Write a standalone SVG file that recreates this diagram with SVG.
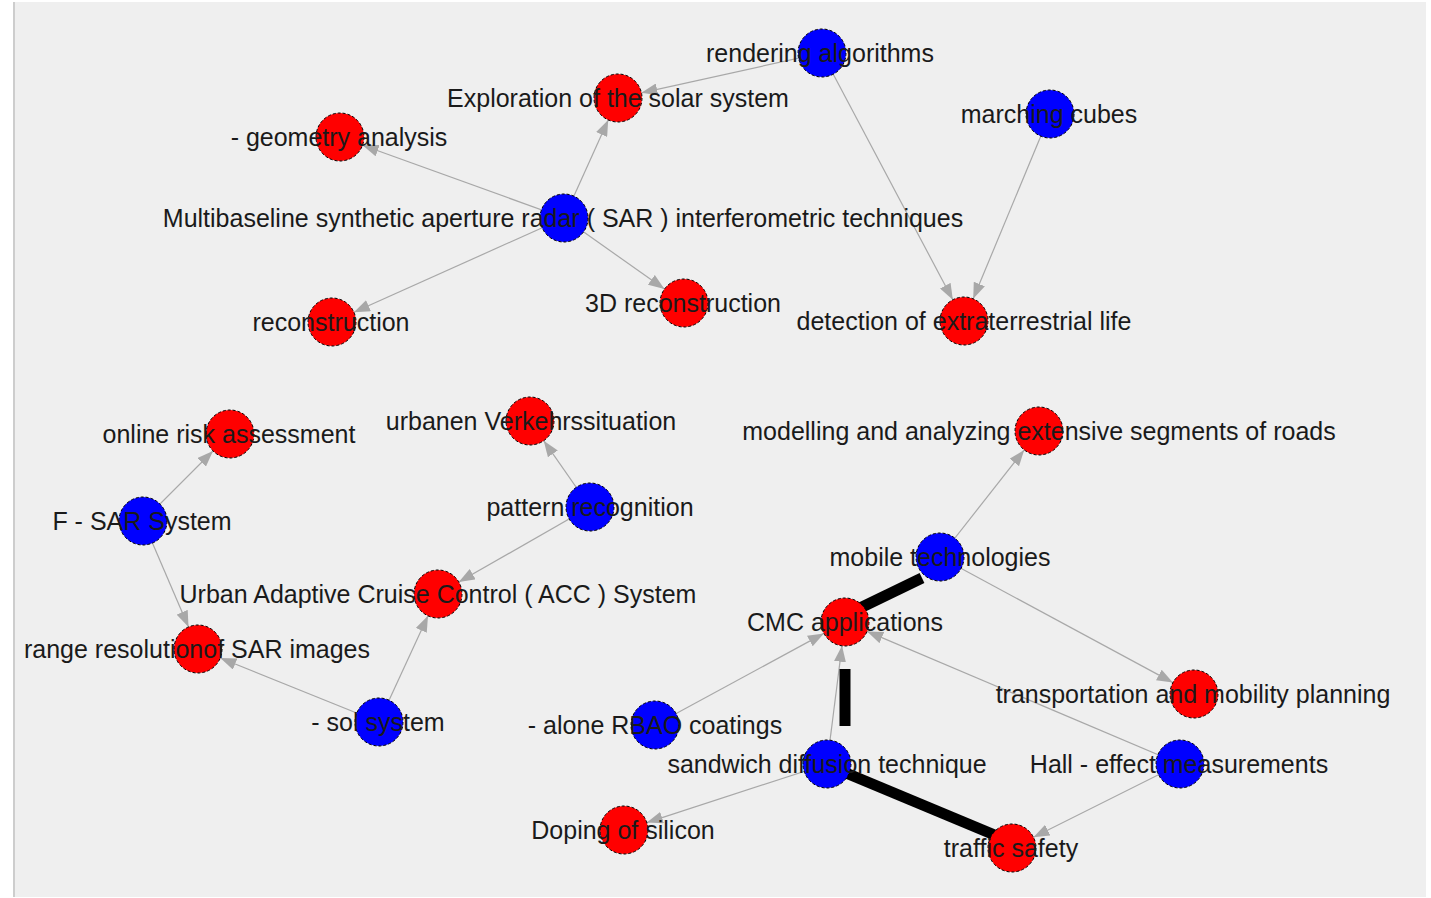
<svg xmlns="http://www.w3.org/2000/svg" width="1431" height="898" viewBox="0 0 1431 898">
  <style>
    .edge { stroke: #a8a8a8; stroke-width: 1.2; fill: none; }
    .heavy { stroke: #000000; stroke-width: 11; fill: none; }
    .node circle { stroke: #000000; stroke-width: 1; stroke-dasharray: 3 2; }
    .src circle { fill: #0000ff; }
    .dst circle { fill: #ff0000; }
    .node text { font-family: "Liberation Sans", Arial, sans-serif; font-size: 25px; fill: #1a1a1a; text-anchor: middle; }
  </style>
  <defs>
    <marker id="arrow" viewBox="0 0 16 12" refX="16" refY="6" markerWidth="16" markerHeight="12" markerUnits="userSpaceOnUse" orient="auto">
      <path d="M0,0 L16,6 L0,12 Z" fill="#a8a8a8"/>
    </marker>
  </defs>

  <!-- canvas -->
  <rect x="0" y="0" width="1431" height="898" fill="#ffffff"/>
  <rect x="13" y="2" width="1413" height="895" fill="#efefef"/>
  <rect x="13" y="2" width="2" height="895" fill="#cdcdcd"/>

  <g id="connectors">
    <line class="edge" x1="822" y1="53" x2="641.4" y2="92.8" marker-end="url(#arrow)"/>
    <line class="edge" x1="822" y1="53" x2="952.8" y2="299.8" marker-end="url(#arrow)"/>
    <line class="edge" x1="1050" y1="114" x2="973.2" y2="298.8" marker-end="url(#arrow)"/>
    <line class="edge" x1="564" y1="218" x2="608.2" y2="119.9" marker-end="url(#arrow)"/>
    <line class="edge" x1="564" y1="218" x2="362.6" y2="145.2" marker-end="url(#arrow)"/>
    <line class="edge" x1="564" y1="218" x2="353.9" y2="312.2" marker-end="url(#arrow)"/>
    <line class="edge" x1="564" y1="218" x2="664.4" y2="289.1" marker-end="url(#arrow)"/>
    <line class="edge" x1="143" y1="521" x2="213" y2="451" marker-end="url(#arrow)"/>
    <line class="edge" x1="143" y1="521" x2="188.5" y2="626.9" marker-end="url(#arrow)"/>
    <line class="edge" x1="590" y1="507" x2="543.7" y2="440.7" marker-end="url(#arrow)"/>
    <line class="edge" x1="590" y1="507" x2="458.8" y2="582.1" marker-end="url(#arrow)"/>
    <line class="edge" x1="379" y1="722" x2="428" y2="615.8" marker-end="url(#arrow)"/>
    <line class="edge" x1="379" y1="722" x2="220.3" y2="658" marker-end="url(#arrow)"/>
    <line class="edge" x1="940" y1="557" x2="1024.2" y2="449.9" marker-end="url(#arrow)"/>
    <line class="edge" x1="940" y1="557" x2="1172.9" y2="682.6" marker-end="url(#arrow)"/>
    <line class="edge" x1="655" y1="725" x2="823.9" y2="633.4" marker-end="url(#arrow)"/>
    <line class="edge" x1="827" y1="764" x2="842" y2="645.8" marker-end="url(#arrow)"/>
    <line class="edge" x1="1180" y1="764" x2="867.1" y2="631.4" marker-end="url(#arrow)"/>
    <line class="edge" x1="1180" y1="764" x2="1033.5" y2="837.3" marker-end="url(#arrow)"/>
    <line class="edge" x1="827" y1="764" x2="646.8" y2="822.6" marker-end="url(#arrow)"/>
    <!-- heavy strokes -->
    <line class="heavy" x1="922" y1="578" x2="860" y2="608"/>
    <line class="heavy" x1="845" y1="669" x2="845" y2="726"/>
    <line class="heavy" x1="846" y1="773" x2="997" y2="836"/>
  </g>

  <g id="n-rendering" class="node src"><circle cx="822" cy="53" r="24"/><text x="820" y="62">rendering algorithms</text></g>
  <g id="n-exploration" class="node dst"><circle cx="618" cy="98" r="24"/><text x="618" y="107">Exploration of the solar system</text></g>
  <g id="n-geometry" class="node dst"><circle cx="340" cy="137" r="24"/><text x="339" y="146">- geometry analysis</text></g>
  <g id="n-marching" class="node src"><circle cx="1050" cy="114" r="24"/><text x="1049" y="123">marching cubes</text></g>
  <g id="n-multibaseline" class="node src"><circle cx="564" cy="218" r="24"/><text x="563" y="227">Multibaseline synthetic aperture radar ( SAR ) interferometric techniques</text></g>
  <g id="n-reconstruction" class="node dst"><circle cx="332" cy="322" r="24"/><text x="331" y="331">reconstruction</text></g>
  <g id="n-3d" class="node dst"><circle cx="684" cy="303" r="24"/><text x="683" y="312">3D reconstruction</text></g>
  <g id="n-detection" class="node dst"><circle cx="964" cy="321" r="24"/><text x="964" y="330">detection of extraterrestrial life</text></g>
  <g id="n-online" class="node dst"><circle cx="230" cy="434" r="24"/><text x="229" y="443">online risk assessment</text></g>
  <g id="n-urbanen" class="node dst"><circle cx="530" cy="421" r="24"/><text x="531" y="430">urbanen Verkehrssituation</text></g>
  <g id="n-modelling" class="node dst"><circle cx="1039" cy="431" r="24"/><text x="1039" y="440">modelling and analyzing extensive segments of roads</text></g>
  <g id="n-fsar" class="node src"><circle cx="143" cy="521" r="24"/><text x="142" y="530">F - SAR System</text></g>
  <g id="n-pattern" class="node src"><circle cx="590" cy="507" r="24"/><text x="590" y="516">pattern recognition</text></g>
  <g id="n-mobile" class="node src"><circle cx="940" cy="557" r="24"/><text x="940" y="566">mobile technologies</text></g>
  <g id="n-acc" class="node dst"><circle cx="438" cy="594" r="24"/><text x="438" y="603">Urban Adaptive Cruise Control ( ACC ) System</text></g>
  <g id="n-cmc" class="node dst"><circle cx="845" cy="622" r="24"/><text x="845" y="631">CMC applications</text></g>
  <g id="n-range" class="node dst"><circle cx="198" cy="649" r="24"/><text x="197" y="658">range resolutionof SAR images</text></g>
  <g id="n-sol" class="node src"><circle cx="379" cy="722" r="24"/><text x="378" y="731">- sol system</text></g>
  <g id="n-rbao" class="node src"><circle cx="655" cy="725" r="24"/><text x="655" y="734">- alone RBAO coatings</text></g>
  <g id="n-transport" class="node dst"><circle cx="1194" cy="694" r="24"/><text x="1193" y="703">transportation and mobility planning</text></g>
  <g id="n-sandwich" class="node src"><circle cx="827" cy="764" r="24"/><text x="827" y="773">sandwich diffusion technique</text></g>
  <g id="n-hall" class="node src"><circle cx="1180" cy="764" r="24"/><text x="1179" y="773">Hall - effect measurements</text></g>
  <g id="n-doping" class="node dst"><circle cx="624" cy="830" r="24"/><text x="623" y="839">Doping of silicon</text></g>
  <g id="n-traffic" class="node dst"><circle cx="1012" cy="848" r="24"/><text x="1011" y="857">traffic safety</text></g>
</svg>
